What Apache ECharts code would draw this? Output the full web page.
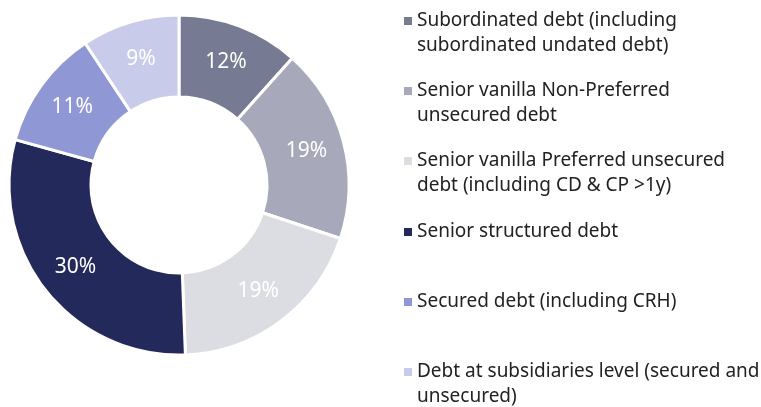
<!DOCTYPE html>
<html><head><meta charset="utf-8">
<script src="https://cdn.jsdelivr.net/npm/echarts@6/dist/echarts.min.js"></script>
<style>html,body{margin:0;padding:0;background:#fff}#c{width:761px;height:407px}</style>
</head><body><div id="c"></div>
<script>
const categories = [
  'Subordinated debt (including\nsubordinated undated debt)',
  'Senior vanilla Non-Preferred\nunsecured debt',
  'Senior vanilla Preferred unsecured\ndebt (including CD & CP >1y)',
  'Senior structured debt',
  'Secured debt (including CRH)',
  'Debt at subsidiaries level (secured and\nunsecured)'
];
const values = [11.6, 18.5, 19.3, 29.9, 11.4, 9.3];
const percentLabels = ['12%', '19%', '19%', '30%', '11%', '9%'];

const colors = ['#767a92', '#a7a9ba', '#dcdde3', '#24295c', '#8f97d4', '#c8cbea'];
const legendLineY = [21, 91, 161, 232, 302, 372];
const FONT = 'Noto Sans';

const chart = echarts.init(document.getElementById('c'), null, {renderer: 'canvas'});
const legends = categories.map((name, i) => {
  const twoLine = name.indexOf('\n') >= 0;
  return {
    data: [name],
    orient: 'vertical',
    left: 404,
    top: legendLineY[i] - 12.5,
    padding: 0,
    itemWidth: 8,
    itemHeight: twoLine ? 33 : 8,
    icon: twoLine ? 'path://M0,0h8v8h-8zM0,33L0,33' : 'rect',
    itemStyle: {borderWidth: 0},
    selectedMode: false,
    textStyle: {fontFamily: FONT, fontSize: 19, lineHeight: 25, color: '#222'}
  };
});

chart.setOption({
  animation: false,
  color: colors,
  legend: legends,
  series: [{
    type: 'pie',
    center: [179, 185],
    radius: [88, 170],
    startAngle: 90,
    clockwise: true,
    avoidLabelOverlap: false,
    itemStyle: {borderColor: '#fff', borderWidth: 3},
    label: {
      show: true,
      position: 'inside',
      color: '#fff',
      fontFamily: FONT,
      fontSize: 21,
      formatter: p => percentLabels[p.dataIndex]
    },
    labelLine: {show: false},
    emphasis: {disabled: true},
    data: categories.map((name, i) => ({name, value: values[i]}))
  }]
});
</script></body></html>
